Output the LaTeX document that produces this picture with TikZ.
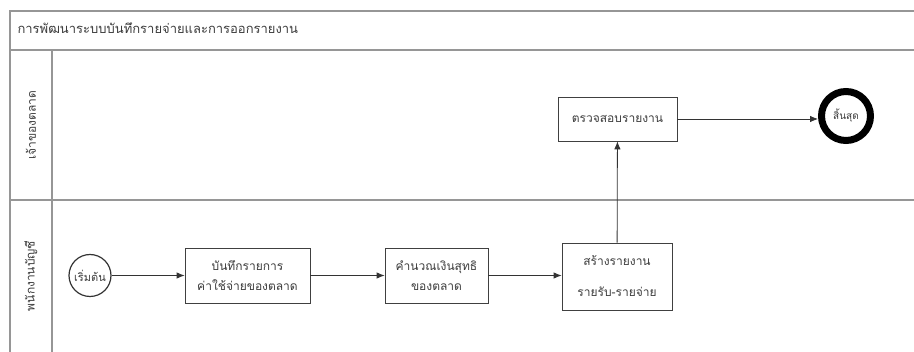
\documentclass[tikz,border=0pt]{standalone}
\usepackage{fontspec}
\usetikzlibrary{arrows.meta}
\newfontfamily\thaifont[Script=Thai]{Loma}
\definecolor{framegray}{RGB}{150,150,150}
\definecolor{textgray}{RGB}{60,60,60}

\begin{document}
\begin{tikzpicture}[x=1pt,y=-1pt,
  font=\thaifont\fontsize{12}{14}\selectfont, text=textgray,
  frame/.style={framegray, line width=1.2pt},
  task/.style={draw=black!75, line width=0.8pt, inner sep=0pt, align=center},
  startev/.style={circle, draw=black!80, line width=1.2pt, minimum size=42pt, inner sep=0pt},
  endev/.style={circle, draw=black, line width=7pt, minimum size=49pt, inner sep=0pt},
  flow/.style={black!80, line width=0.8pt, -{Latex[length=8pt,width=6.5pt]}}]
\useasboundingbox (0,0) rectangle (914,352);

% pool and lanes
\draw [frame] (914,11) -- (10,11) -- (10,352);
\draw [frame] (10,50) -- (914,50);
\draw [frame] (10,200) -- (914,200);
\draw [frame] (52,50) -- (52,352);
\node [anchor=west, font=\thaifont\fontsize{13}{15}\selectfont] (title) at (14,28)
  {การพัฒนาระบบบันทึกรายจ่ายและการออกรายงาน};
\node [rotate=90] (lane1) at (31,125) {เจ้าของตลาด};
\node [rotate=90] (lane2) at (31,276) {พนักงานบัญชี};

% events and tasks
\node [startev, font=\thaifont\fontsize{11}{13}\selectfont] (start) at (90,275.5) {เริ่มต้น};
\node [task, minimum width=125pt, minimum height=55pt] (record) at (247.5,275.5)
  {บันทึกรายการ\\[6pt]ค่าใช้จ่ายของตลาด};
\node [task, minimum width=103pt, minimum height=55pt] (calc) at (436.5,275.5)
  {คำนวณเงินสุทธิ\\[6pt]ของตลาด};
\node [task, minimum width=110pt, minimum height=67pt] (report) at (617,276.5)
  {สร้างรายงาน\\[17pt]รายรับ-รายจ่าย};
\node [task, minimum width=119pt, minimum height=44pt] (check) at (617.5,119)
  {ตรวจสอบรายงาน};
\node [endev, font=\thaifont\fontsize{10}{12}\selectfont] (finish) at (846,116) {สิ้นสุด};

% flows
\draw [flow] (start) -- (record);
\draw [flow] (record) -- (calc);
\draw [flow] (calc) -- (calc -| report.west);
\draw [flow] (report) -- (check);
\draw [flow] (check.east) -- (check.east -| finish.west);
\end{tikzpicture}
\end{document}
